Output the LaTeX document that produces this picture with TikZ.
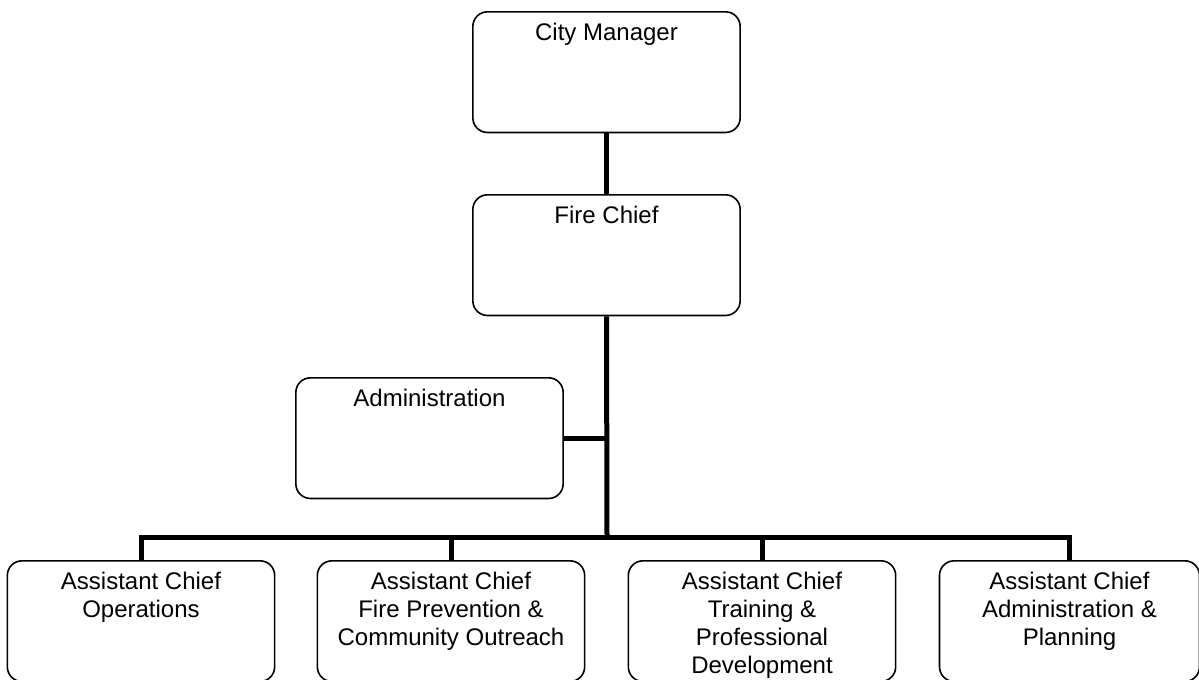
\documentclass[tikz,border=0pt]{standalone}
\usepackage{fontspec}
\setmainfont{Liberation Sans}
\usepackage{tikz}
\usepackage{xcolor}
\usetikzlibrary{positioning,calc}
\definecolor{ink}{HTML}{000000}
\definecolor{paper}{HTML}{FFFFFF}
\newcommand{\orgtext}[1]{\parbox[t][77.5pt][t]{195pt}{\centering\strut #1}}

\begin{document}
\begin{tikzpicture}[x=0.75pt,y=-0.75pt,
    orgbox/.style={draw=ink,line width=1.2pt,rounded corners=11pt,anchor=north,
      inner xsep=0pt,inner ysep=6.5pt,minimum width=200.5pt,
      font=\fontsize{18}{21}\selectfont},
    link/.style={draw=ink,line width=3.75pt,line cap=rect}]
      \clip (0,0) rectangle (1199,679);
      \fill[paper] (0,0) rectangle (1199,679);
      % top of the chart
      \node[orgbox] (city) at (606.5,11) {\orgtext{City Manager}};
      \node[orgbox] (fire) at (606.5,194) {\orgtext{Fire Chief}};
      \node[orgbox] (admin) at (429.5,377) {\orgtext{Administration}};
      % assistant chiefs
      \node[orgbox] (ops) at (141,560) {\orgtext{Assistant Chief\\Operations}};
      \node[orgbox] (prev) at (451,560) {\orgtext{Assistant Chief\\Fire Prevention \&\\Community Outreach}};
      \node[orgbox] (train) at (762,560) {\orgtext{Assistant Chief\\Training \&\\Professional\\Development}};
      \node[orgbox,minimum width=193pt] (plan) at (1069.5,560) {\orgtext{Assistant Chief\\Administration \&\\Planning}};
      \coordinate (bus) at (607,537);
      \draw[link,line cap=butt] (city.south) -- (fire.north);
      \draw[link,line cap=butt] (fire.south) -- (bus);
      \draw[link,line cap=butt] (admin.east) -- (admin.east -| bus);
      \draw[link] (ops.north |- bus) -- (plan.north |- bus);
      \foreach \b in {ops,prev,train,plan}
        \draw[link,line cap=butt] (\b.north) -- (\b.north |- bus);
    \end{tikzpicture}
\end{document}
